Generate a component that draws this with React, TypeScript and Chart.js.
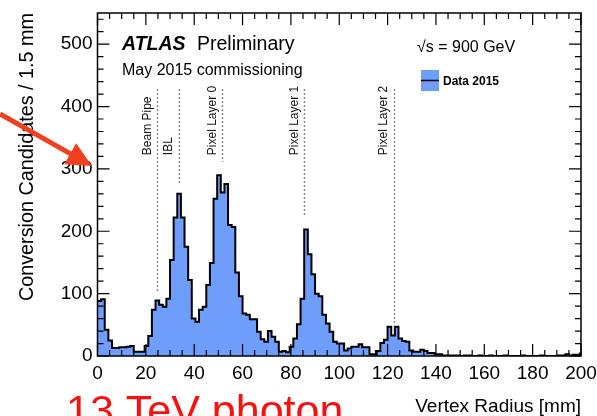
import { useEffect, useRef } from "react";
import { Chart, registerables } from "chart.js";

Chart.register(...registerables);

// ---- data ----
const BIN_WIDTH = 1.5; // mm
const counts = [
  88, 91, 42, 25, 13, 13, 14, 14, 15, 16,
  7, 7, 7, 16, 32, 74, 89, 82, 79, 92,
  154, 222, 260, 222, 175, 122, 60, 55, 74, 79,
  114, 149, 252, 290, 262, 276, 210, 207, 134, 96,
  68, 66, 59, 59, 39, 27, 23, 40, 31, 23,
  7, 8, 6, 15, 28, 51, 92, 203, 163, 131,
  100, 96, 66, 52, 39, 23, 20, 20, 9, 12,
  15, 15, 19, 14, 14, 3, 3, 8, 21, 26,
  47, 33, 47, 28, 24, 23, 9, 7, 7, 10,
  8, 5, 5, 3, 3, 1, 1, 1, 1, 1,
  0, 1, 1, 0, 0, 1, 0, 0, 1, 0,
  0, 0, 1, 0, 0, 0, 0, 1, 0, 0,
  0, 0, 1, 0, 0, 0, 0, 1, 1, 3,
  1, 2, 2, 4,
];
const xTicks = [0, 20, 40, 60, 80, 100, 120, 140, 160, 180, 200];
const yTicks = [0, 100, 200, 300, 400, 500];
const X_MINOR = 5;
const Y_MINOR = 20;
const X_MAX = 200;
const Y_MAX = 550;

const detectorNames = ["Beam Pipe", "IBL", "Pixel Layer 0", "Pixel Layer 1", "Pixel Layer 2"];
const detectorRadii = [24.7, 33.6, 51.6, 85.5, 122.6]; // mm
const detectorLineBottoms = [103, 277, 311, 226, 53]; // counts
const DETECTOR_LINE_TOP = 428; // counts
const DETECTOR_LABEL_START = 322; // counts

const FONT = '"Liberation Sans", Arial, Helvetica, sans-serif';
const BLUE = "#6f9dfb";

const rootPlugin = {
  id: "rootStyle",
  afterDatasetsDraw(chart: any) {
    const { ctx, chartArea: a, scales } = chart;
    const x = scales.x;
    const y = scales.y;
    ctx.save();

    // detector marker lines + labels
    ctx.strokeStyle = "#8a8a8a";
    ctx.lineWidth = 1.5;
    ctx.setLineDash([2, 2]);
    detectorRadii.forEach((r, i) => {
      const px = Math.round(x.getPixelForValue(r)) + 0.5;
      ctx.beginPath();
      ctx.moveTo(px, y.getPixelForValue(DETECTOR_LINE_TOP));
      ctx.lineTo(px, y.getPixelForValue(detectorLineBottoms[i]));
      ctx.stroke();
    });
    ctx.setLineDash([]);
    ctx.fillStyle = "#111";
    ctx.font = `12px ${FONT}`;
    ctx.textAlign = "left";
    ctx.textBaseline = "middle";
    detectorRadii.forEach((r, i) => {
      const px = x.getPixelForValue(r);
      ctx.save();
      ctx.translate(px - 10, y.getPixelForValue(DETECTOR_LABEL_START));
      ctx.rotate(-Math.PI / 2);
      ctx.fillText(detectorNames[i], 0, 0);
      ctx.restore();
    });

    // frame
    ctx.strokeStyle = "#000";
    ctx.lineWidth = 1.5;
    ctx.strokeRect(a.left, a.top, a.right - a.left, a.bottom - a.top);

    // ROOT-style inward ticks on all four sides
    ctx.lineWidth = 1.2;
    ctx.beginPath();
    for (let v = 0; v <= X_MAX; v += X_MINOR) {
      const px = x.getPixelForValue(v);
      const len = xTicks.includes(v) ? 12 : 6;
      ctx.moveTo(px, a.bottom);
      ctx.lineTo(px, a.bottom - len);
      ctx.moveTo(px, a.top);
      ctx.lineTo(px, a.top + len);
    }
    for (let v = 0; v <= Y_MAX; v += Y_MINOR) {
      const py = y.getPixelForValue(v);
      const len = yTicks.includes(v) ? 12 : 6;
      ctx.moveTo(a.left, py);
      ctx.lineTo(a.left + len, py);
      ctx.moveTo(a.right, py);
      ctx.lineTo(a.right - len, py);
    }
    ctx.stroke();

    // ATLAS label
    ctx.fillStyle = "#000";
    ctx.textBaseline = "alphabetic";
    ctx.textAlign = "left";
    ctx.font = `italic bold 19.5px ${FONT}`;
    ctx.fillText("ATLAS", 122, 50);
    ctx.font = `19.5px ${FONT}`;
    ctx.fillText("Preliminary", 197, 50);
    ctx.font = `16px ${FONT}`;
    ctx.fillText("May 2015 commissioning", 122, 75);
    ctx.fillText("\u221As = 900 GeV", 417, 51.5);

    // legend
    ctx.fillStyle = BLUE;
    ctx.fillRect(421, 70, 18, 21);
    ctx.strokeStyle = "#000";
    ctx.lineWidth = 1.5;
    ctx.beginPath();
    ctx.moveTo(421, 80.5);
    ctx.lineTo(439, 80.5);
    ctx.stroke();
    ctx.fillStyle = "#000";
    ctx.font = `bold 12px ${FONT}`;
    ctx.fillText("Data 2015", 443, 85);

    ctx.restore();
  },
  afterDraw(chart: any) {
    const { ctx } = chart;
    ctx.save();
    // red slide annotation arrow
    const red = "#f23f1f";
    const sx = 0, sy = 114, tx = 92, ty = 166;
    const dx = tx - sx, dy = ty - sy;
    const L = Math.hypot(dx, dy);
    const ux = dx / L, uy = dy / L;
    const bx = tx - 25 * ux, by = ty - 25 * uy;
    ctx.strokeStyle = red;
    ctx.lineWidth = 5;
    ctx.beginPath();
    ctx.moveTo(sx, sy);
    ctx.lineTo(bx + 2 * ux, by + 2 * uy);
    ctx.stroke();
    ctx.fillStyle = red;
    ctx.beginPath();
    ctx.moveTo(tx, ty);
    ctx.lineTo(bx - 12 * uy, by + 12 * ux);
    ctx.lineTo(bx + 12 * uy, by - 12 * ux);
    ctx.closePath();
    ctx.fill();
    // red slide text
    ctx.fillStyle = "#f81010";
    ctx.font = `43px ${FONT}`;
    ctx.textAlign = "left";
    ctx.textBaseline = "alphabetic";
    ctx.fillText("13 TeV photon", 66, 425);
    ctx.restore();
  },
};

export default function App() {
  const ref = useRef<HTMLCanvasElement>(null);
  useEffect(() => {
    document.body.style.margin = "0";
    const points = counts.map((c, i) => ({ x: i * BIN_WIDTH, y: c }));
    points.push({ x: counts.length * BIN_WIDTH, y: counts[counts.length - 1] });
    const chart = new Chart(ref.current as HTMLCanvasElement, {
      type: "line",
      data: {
        datasets: [
          {
            label: "Data 2015",
            data: points,
            stepped: "before",
            fill: "origin",
            backgroundColor: BLUE,
            borderColor: "#000",
            borderWidth: 2,
            pointRadius: 0,
          },
        ],
      },
      options: {
        animation: false,
        responsive: false,
        devicePixelRatio: 1,
        layout: { padding: { top: 13, right: 16, left: 0, bottom: 0 } },
        plugins: { legend: { display: false }, tooltip: { enabled: false } },
        scales: {
          x: {
            type: "linear",
            min: 0,
            max: X_MAX,
            grid: { display: false, drawTicks: false },
            border: { display: false },
            ticks: {
              font: { family: FONT, size: 19 },
              color: "#000",
              padding: 6,
              maxRotation: 0,
              autoSkip: false,
            },
            afterBuildTicks: (s: any) => {
              s.ticks = xTicks.map((v) => ({ value: v }));
            },
            afterFit: (s: any) => {
              s.height = 60;
              s.paddingLeft = 0;
              s.paddingRight = 0;
            },
            title: {
              display: true,
              text: "Vertex Radius [mm]",
              align: "end",
              color: "#000",
              font: { family: FONT, size: 19, lineHeight: 1 },
              padding: { top: 0, bottom: 0 },
            },
          },
          y: {
            type: "linear",
            min: 0,
            max: Y_MAX,
            grid: { display: false, drawTicks: false },
            border: { display: false },
            ticks: {
              font: { family: FONT, size: 19 },
              color: "#000",
              padding: 5,
              autoSkip: false,
            },
            afterBuildTicks: (s: any) => {
              s.ticks = yTicks.map((v) => ({ value: v }));
            },
            afterFit: (s: any) => {
              s.width = 97.5;
              s.paddingTop = 0;
              s.paddingBottom = 0;
            },
            title: {
              display: true,
              text: "Conversion Candidates / 1.5 mm",
              align: "end",
              color: "#000",
              font: { family: FONT, size: 19.8, lineHeight: 1.2 },
              padding: { top: 16, bottom: 0 },
            },
          },
        },
      },
      plugins: [rootPlugin],
    } as any);
    return () => chart.destroy();
  }, []);
  return (
    <div style={{ position: "relative", width: 597, height: 416, background: "#fff", overflow: "hidden" }}>
      <canvas ref={ref} width={597} height={416} style={{ display: "block", width: 597, height: 416 }} />
    </div>
  );
}
